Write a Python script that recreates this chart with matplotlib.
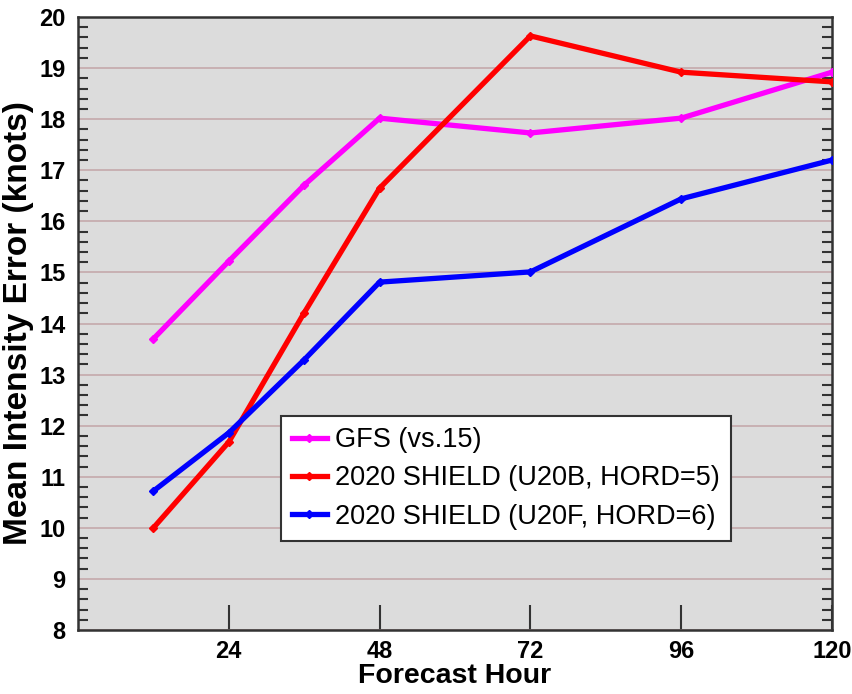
import matplotlib.pyplot as plt
from matplotlib.ticker import MultipleLocator

# forecast lead times (h) and mean intensity errors (kt)
hours = [12, 24, 36, 48, 72, 96, 120]
gfs = [13.70, 15.22, 16.71, 18.02, 17.73, 18.02, 18.92]
shield_b = [10.00, 11.68, 14.21, 16.65, 19.63, 18.92, 18.73]
shield_f = [10.72, 11.86, 13.29, 14.81, 15.01, 16.44, 17.20]

labels = ["GFS (vs.15)", "2020 SHIELD (U20B, HORD=5)", "2020 SHIELD (U20F, HORD=6)"]
colors = ["#ff00ff", "#ff0000", "#0000ff"]
x_ticks = [24, 48, 72, 96, 120]

plain = ["Liberation Sans", "DejaVu Sans"]

fig = plt.figure(figsize=(8.52, 6.94), dpi=100)
ax = fig.add_axes([78 / 852, 64 / 694, 754 / 852, 613 / 694])
ax.set_facecolor("#dcdcdc")

for ys, lab, c in zip([gfs, shield_b, shield_f], labels, colors):
    ax.plot(hours, ys, color=c, linewidth=3.8, marker="D", markersize=4.5,
            label=lab, zorder=3)

ax.set_xlim(0, 120)
ax.set_ylim(8, 20)
ax.set_xticks(x_ticks)
ax.yaxis.set_major_locator(MultipleLocator(1))
ax.yaxis.set_minor_locator(MultipleLocator(0.2))
ax.grid(axis="y", which="major", color="#c4a9ab", linewidth=1.2, zorder=1)

for s in ax.spines.values():
    s.set_color("#333333")
    s.set_linewidth(1.8)

ax.tick_params(axis="x", direction="in", length=18, width=1.5, color="#333333",
               pad=7)
ax.tick_params(axis="y", which="major", direction="in", length=0, pad=9,
               right=True)
ax.tick_params(axis="y", which="minor", direction="in", length=7, width=1.5,
               color="#333333", right=True)

for t in ax.get_xticklabels():
    t.set_fontfamily(plain)
    t.set_fontweight("bold")
    t.set_fontsize(17)
for t in ax.get_yticklabels():
    t.set_fontfamily(plain)
    t.set_fontweight("bold")
    t.set_fontsize(17)

ax.set_xlabel("Forecast Hour", fontfamily=plain, fontweight="bold",
              fontsize=20.5, labelpad=0)
ax.set_ylabel("Mean Intensity Error (knots)", fontfamily=plain,
              fontweight="bold", fontsize=24, labelpad=4)

leg = ax.legend(loc="lower left", bbox_to_anchor=(0.269, 0.146),
                prop={"family": plain, "size": 19.5}, frameon=True,
                fancybox=False, framealpha=1, handlelength=1.3,
                handletextpad=0.3, borderpad=0.4, labelspacing=0.45,
                borderaxespad=0)
leg.get_frame().set_edgecolor("#333333")
leg.get_frame().set_linewidth(1.5)
leg.set_zorder(5)

fig.savefig("out.png", dpi=100)
